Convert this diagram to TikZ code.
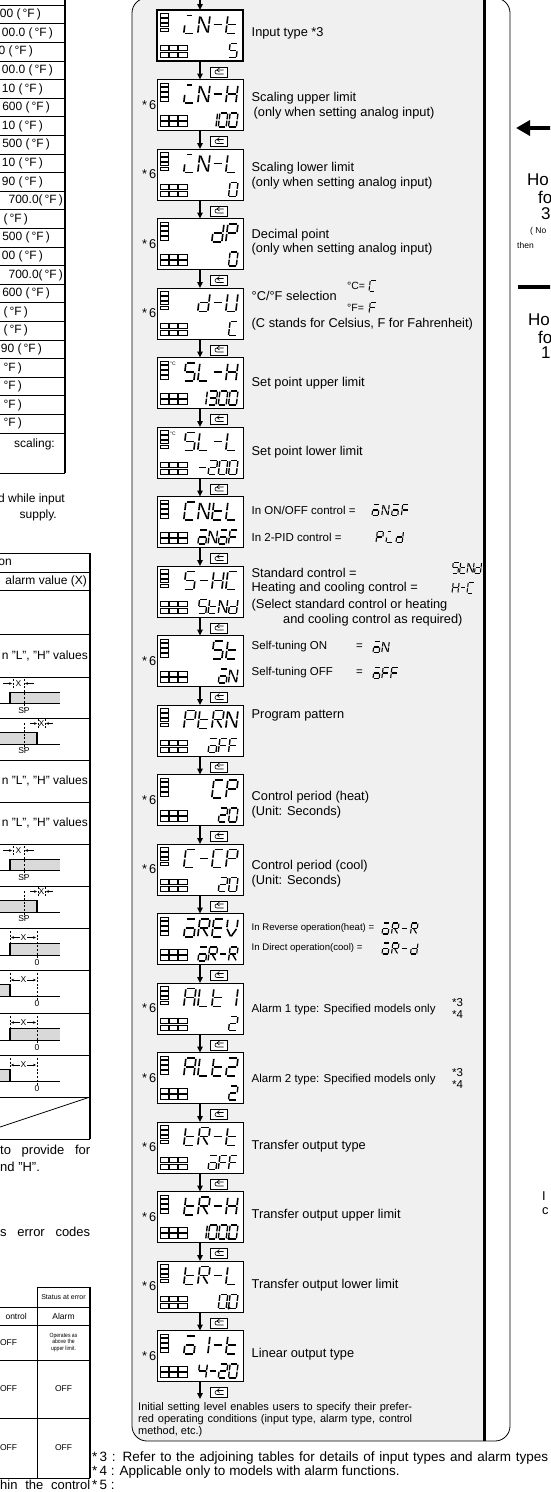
\documentclass[tikz,border=0pt]{standalone}
\usepackage{fontspec}
\setmainfont{Liberation Sans}
\usetikzlibrary{arrows.meta}
\definecolor{panelgray}{gray}{0.94}
\definecolor{diagray}{gray}{0.85}

% ---------- seven-segment definitions (unit height 1, width 0.56)
\expandafter\def\csname sg@a\endcsname{(0.05,1)--(0.51,1)}
\expandafter\def\csname sg@b\endcsname{(0.56,0.95)--(0.56,0.55)}
\expandafter\def\csname sg@c\endcsname{(0.56,0.45)--(0.56,0.05)}
\expandafter\def\csname sg@d\endcsname{(0.05,0)--(0.51,0)}
\expandafter\def\csname sg@e\endcsname{(0,0.05)--(0,0.45)}
\expandafter\def\csname sg@f\endcsname{(0,0.55)--(0,0.95)}
\expandafter\def\csname sg@g\endcsname{(0.05,0.5)--(0.51,0.5)}
\expandafter\def\csname sg@h\endcsname{(0.05,1)--(0.32,1)}
\expandafter\def\csname sg@n\endcsname{(0.05,0.92)--(0.51,0.08)}
\expandafter\def\csname sg@r\endcsname{(0.25,0.45)--(0.54,0.05)}
\expandafter\def\csname sg@v\endcsname{(0.02,0.45)--(0.26,0.04)}
\expandafter\def\csname sg@u\endcsname{(0.54,0.45)--(0.30,0.04)}
\expandafter\def\csname sg@p\endcsname{(0.75,0.04) circle[radius=0.05]}
\def\defch#1#2{\expandafter\def\csname ch@#1\endcsname{#2}}
\defch{0}{a,b,c,d,e,f}
\defch{0p}{a,b,c,d,e,f,p}
\defch{1}{b,c}
\defch{2}{a,b,g,e,d}
\defch{3}{a,b,g,c,d}
\defch{4}{f,g,b,c}
\defch{5}{a,f,g,c,d}
\defch{A}{a,b,c,e,f,g}
\defch{C}{a,d,e,f}
\defch{E}{a,d,e,f,g}
\defch{F}{a,e,f,g}
\defch{H}{b,c,e,f,g}
\defch{L}{d,e,f}
\defch{N}{b,c,e,f,n}
\defch{P}{a,b,e,f,g}
\defch{R}{a,b,e,f,g,r}
\defch{U}{b,c,d,e,f}
\defch{V}{b,f,v,u}
\defch{d}{b,c,d,e,g}
\defch{t}{d,e,f,g}
\defch{O}{a,c,d,e,g}
\defch{i}{h,e,d}
\defch{-}{g}

\newcommand\lcddraw[5]{%
 \foreach \lch [count=\lci from 0] in \lcdlist {%
  \begin{scope}[shift={({#1+\lci*#4},{#2})}, x={(#3pt,0pt)}, y={(0pt,#3pt)}, xslant=0.12, line width=#5pt, line cap=butt]
   \expandafter\let\expandafter\lseglist\csname ch@\lch\endcsname
   \foreach \lsg in \lseglist {%
     \expandafter\let\expandafter\lsegpath\csname sg@\lsg\endcsname
     \draw \lsegpath;}
  \end{scope}}}
\newcommand\lcdL[6]{\edef\lcdlist{#6}\lcddraw{#1}{#2}{#3}{#4}{#5}}
\newcommand\lcdR[6]{\edef\lcdlist{#6}%
 \foreach \lch [count=\lcn] in \lcdlist {\xdef\lcdN{\lcn}}%
 \pgfmathsetmacro\lcdX{#1-(\lcdN-1)*#4-0.68*#3}%
 \lcddraw{\lcdX}{#2}{#3}{#4}{#5}}

\tikzset{
 dbox/.style={draw, fill=white, minimum width=86pt, minimum height=51pt, inner sep=0pt, outer sep=0pt},
 dsq/.style={line width=0.45pt},
 farrow/.style={line width=1.6pt, -{Triangle[width=5.5pt,length=6pt]}},
 lbl/.style={font=\fontsize{12.8}{14}\selectfont, inner sep=0pt, anchor=west},
 slbl/.style={font=\fontsize{11.5}{13}\selectfont, inner sep=0pt, anchor=west},
 xslbl/.style={font=\fontsize{9.6}{11}\selectfont, inner sep=0pt, anchor=west},
 tbl/.style={font=\fontsize{12}{13}\selectfont, inner sep=0pt},
 par/.style={font=\fontsize{13}{14}\selectfont, inner sep=0pt},
 small/.style={font=\fontsize{8.5}{9}\selectfont, inner sep=0pt},
 tiny/.style={font=\fontsize{6}{6.5}\selectfont, inner sep=0pt, align=center},
 xlab/.style={font=\fontsize{8.5}{9}\selectfont, inner sep=0pt},
 xarr/.style={line width=0.6pt, -{Stealth[length=3pt,width=2.6pt]}},
 dashln/.style={line width=0.9pt, dash pattern=on 2pt off 1.6pt},
 rule/.style={line width=0.8pt},
 fn/.style={font=\fontsize{13.5}{14}\selectfont, inner sep=0pt, anchor=west},
 itx/.style={font=\fontsize{11}{12}\selectfont, inner sep=0pt, anchor=west},
 big/.style={font=\fontsize{17}{17}\selectfont, inner sep=0pt, anchor=west},
}

\newcommand\dispbox[3]{%
 \node[dbox, line width=#3] (#1) at (200,#2+25.5) {};
 \foreach \q in {0,...,3} {\draw[dsq] (160,#2+3.3+\q*4.9) rectangle (168,#2+6.9+\q*4.9);}
 \foreach \q in {0,1,2} {\foreach \r in {0,1} {\draw[dsq] (160+\q*9.2,#2+35.3+\r*6.5) rectangle (168.4+\q*9.2,#2+40.6+\r*6.5);}}}
\newcommand\dispfull[5]{\dispbox{#1}{#2}{#3}%
 \lcdR{238}{#2+23.5}{18}{14}{1.6}{#4}%
 \lcdR{238}{#2+47.5}{14}{10.2}{1.35}{#5}}
\newcommand\reticon[2]{%
 \draw[line width=0.5pt, fill=white] (#1-8.3,#2-5) rectangle (#1+8.3,#2+5);
 \draw[line width=0.6pt] (#1+5,#2-2) -- (#1-1.5,#2-2) to[out=180,in=180,looseness=1.7] (#1-1.5,#2+2) -- (#1+5,#2+2);
 \draw[line width=0.6pt] (#1+1,#2-4) -- (#1-1.5,#2-2) -- (#1+1,#2);}
\newcommand\spA[2]{%
 \fill[diagray] (10,#1+15) rectangle (60,#1+26);
 \draw[line width=0.5pt] (10,#1+15) -- (60,#1+15);
 \draw[line width=1.4pt] (10,#1+15) -- (10,#1+26);
 \draw[line width=1pt] (-2,#1+26) -- (60,#1+26);
 \draw[dashln] (24,#1+2) -- (24,#1+31);
 \draw[dashln] (13,#1+2) -- (13,#1+11);
 \draw[xarr] (3,#1+6.5) -- (12,#1+6.5);
 \draw[xarr] (34,#1+6.5) -- (25,#1+6.5);
 \node[xlab] (spax#2) at (18.5,#1+6.5) {X};
 \node[xlab] (spas#2) at (24,#1+33.5) {SP};}
\newcommand\spB[2]{%
 \fill[diagray] (-2,#1+14) rectangle (37,#1+26);
 \draw[line width=0.5pt] (-2,#1+14) -- (37,#1+14);
 \draw[line width=1.4pt] (37,#1+14) -- (37,#1+26);
 \draw[line width=1pt] (-2,#1+26) -- (60,#1+26);
 \draw[dashln] (24,#1+5) -- (24,#1+31);
 \draw[dashln] (38,#1+1) -- (38,#1+10);
 \draw[dashln] (45,#1+1) -- (45,#1+10);
 \draw[xarr] (30,#1+5.5) -- (37,#1+5.5);
 \draw[xarr] (53,#1+5.5) -- (46,#1+5.5);
 \node[xlab] (spbx#2) at (41.5,#1+5.5) {X};
 \node[xlab] (spbs#2) at (24,#1+33) {SP};}
\newcommand\zA[2]{%
 \fill[diagray] (10,#1+15) rectangle (60,#1+27);
 \draw[line width=0.5pt] (10,#1+15) -- (60,#1+15);
 \draw[line width=1.4pt] (10,#1+15) -- (10,#1+27);
 \draw[line width=1pt] (-2,#1+27) -- (60,#1+27);
 \draw[dashln] (10,#1+3) -- (10,#1+15);
 \draw[dashln] (37,#1+3) -- (37,#1+31);
 \draw[xarr] (20,#1+9.5) -- (11,#1+9.5);
 \draw[xarr] (27,#1+9.5) -- (36,#1+9.5);
 \node[xlab] (zax#2) at (23.5,#1+9.5) {X};
 \node[xlab] (zas#2) at (37,#1+35) {0};}
\newcommand\zB[2]{%
 \fill[diagray] (-2,#1+14) rectangle (10,#1+26);
 \draw[line width=0.5pt] (-2,#1+14) -- (10,#1+14);
 \draw[line width=1.4pt] (10,#1+14) -- (10,#1+26);
 \draw[line width=1pt] (-2,#1+26) -- (60,#1+26);
 \draw[dashln] (10,#1+3) -- (10,#1+14);
 \draw[dashln] (37,#1+3) -- (37,#1+30);
 \draw[xarr] (20,#1+10) -- (11,#1+10);
 \draw[xarr] (27,#1+10) -- (36,#1+10);
 \node[xlab] (zbx#2) at (23.5,#1+10) {X};
 \node[xlab] (zbs#2) at (37,#1+34) {0};}

\begin{document}
\begin{tikzpicture}[x=1pt,y=-1pt]
\useasboundingbox (0,0) rectangle (550,1492);
\clip (0,0) rectangle (550,1492);
\fill[white] (0,0) rectangle (550,1492);

% ================= left: table 1
\foreach \k in {0,...,23} {\draw[rule] (-5,5.2+\k*18.6) -- (65,5.2+\k*18.6);}
\draw[rule] (-5,473) -- (65,473);
\draw[line width=1.4pt] (65,-2) -- (65,473);
\foreach \k/\xe/\tx in {0/41/{00 (\,°F\,)},1/53/{00.0 (\,°F\,)},2/33/{0 (\,°F\,)},3/53/{00.0 (\,°F\,)},
 4/43/{10 (\,°F\,)},5/50/{600 (\,°F\,)},6/43/{10 (\,°F\,)},7/50/{500 (\,°F\,)},8/43/{10 (\,°F\,)},
 9/43/{90 (\,°F\,)},10/63/{700.0(\,°F\,)},11/28/{(\,°F\,)},12/50/{500 (\,°F\,)},13/43/{00 (\,°F\,)},
 14/63/{700.0(\,°F\,)},15/50/{600 (\,°F\,)},16/28/{(\,°F\,)},17/28/{(\,°F\,)},18/42/{90 (\,°F\,)},
 19/22/{°F\,)},20/22/{°F\,)},21/22/{°F\,)},22/22/{°F\,)}}
 {\node[tbl, anchor=east] (ta\k) at (\xe,14.5+\k*18.6) {\tx};}
\node[tbl, anchor=east] (ta23) at (55,444) {scaling:};
\node[tbl, anchor=east] (tb1) at (65,499) {d while input};
\node[tbl, anchor=east] (tb2) at (57,515) {supply.};

% ================= left: table 2 (alarm types)
\foreach \yy in {553,572,590,634,677,718,760,802,844,886,928,970,1013,1055,1097,1139}
 {\draw[rule] (-5,\yy) -- (90,\yy);}
\draw[line width=1.2pt] (90,553) -- (90,1139);
\draw[rule] (-5,1128.7) -- (90,1097);
\node[tbl, anchor=east] (tc1) at (12,562.5) {on};
\node[tbl, anchor=east] (tc2) at (87,581) {alarm value (X)};
\node[tbl, anchor=east] (tc3) at (88,656) {n "L", "H" values};
\node[tbl, anchor=east] (tc4) at (88,781) {n "L", "H" values};
\node[tbl, anchor=east] (tc5) at (88,823) {n "L", "H" values};
\spA{677}{1}
\spB{718}{1}
\spA{844}{2}
\spB{886}{2}
\zA{928}{1}
\zB{970}{1}
\zA{1013}{2}
\zB{1055}{2}
\node[par, anchor=west] (td1) at (0,1151) {\makebox[90pt][s]{to provide for}};
\node[par, anchor=west] (td2) at (0,1167) {nd "H".};
\node[par, anchor=west] (td3) at (0,1232) {\makebox[90pt][s]{s error codes}};

% ================= left: table 3 (errors)
\draw[rule] (37,1287) -- (90,1287);
\draw[rule] (37,1287) -- (37,1478);
\draw[line width=1.2pt] (90,1287) -- (90,1478);
\foreach \yy in {1307,1325,1360,1418,1478} {\draw[rule] (-5,\yy) -- (90,\yy);}
\node[font=\fontsize{7}{8}\selectfont, inner sep=0pt] (te1) at (63.5,1297) {Status at error};
\node[small, anchor=east] (te2) at (27,1316) {ontrol};
\node[small] (te3) at (63.5,1316) {Alarm};
\node[small] (te4) at (8.5,1342.5) {OFF};
\node[tiny] (te5) at (63.5,1342.5) {\scalebox{0.85}[1]{Operates as}\\\scalebox{0.85}[1]{above the}\\\scalebox{0.85}[1]{upper limit.}};
\node[small] (te6) at (8.5,1389) {OFF};
\node[small] (te7) at (63.5,1389) {OFF};
\node[small] (te8) at (8.5,1448) {OFF};
\node[small] (te9) at (63.5,1448) {OFF};
\node[par, anchor=west] (te10) at (0,1485) {\makebox[90pt][s]{hin the control}};

% ================= centre panel
\begin{scope}
 \clip[rounded corners=15pt] (132,-2) rectangle (510,1441);
 \fill[panelgray] (132,-2) rectangle (484,1441);
\end{scope}
\draw[line width=0.8pt, rounded corners=15pt] (132,-2) rectangle (510,1441);
\draw[line width=3pt] (484,-2) -- (484,1441);

% displays
\dispfull{d1}{10}{2.4pt}{i,N,-,t}{5}
\dispfull{d2}{79.5}{0.9pt}{i,N,-,H}{1,0,0}
\dispfull{d3}{149}{0.9pt}{i,N,-,L}{0}
\dispfull{d4}{218.5}{0.9pt}{d,P}{0}
\dispfull{d5}{288}{0.9pt}{d,-,U}{C}
\dispfull{d6}{357.5}{0.9pt}{5,L,-,H}{1,3,0,0}
\dispfull{d7}{427}{0.9pt}{5,L,-,L}{-,2,0,0}
\dispfull{d8}{496.5}{0.9pt}{C,N,t,L}{O,N,O,F}
\dispfull{d9}{566}{0.9pt}{5,-,H,C}{5,t,N,d}
\dispfull{d10}{635.5}{0.9pt}{5,t}{O,N}
\dispfull{d11}{705}{0.9pt}{P,t,R,N}{O,F,F}
\dispfull{d12}{774.5}{0.9pt}{C,P}{2,0}
\dispfull{d13}{844}{0.9pt}{C,-,C,P}{2,0}
\dispfull{d14}{913.5}{0.9pt}{O,R,E,V}{O,R,-,R}
\dispfull{d15}{983}{0.9pt}{A,L,t,1}{2}
\dispfull{d16}{1052.5}{0.9pt}{A,L,t,2}{2}
\dispfull{d17}{1122}{0.9pt}{t,R,-,t}{O,F,F}
\dispfull{d18}{1191.5}{0.9pt}{t,R,-,H}{1,0,0p,0}
\dispfull{d19}{1261}{0.9pt}{t,R,-,L}{0p,0}
\dispfull{d20}{1330.5}{0.9pt}{O,1,-,t}{4,-,2,0}
\node[font=\fontsize{5}{5}\selectfont, inner sep=0pt] (dc6) at (173,364) {°C};
\node[font=\fontsize{5}{5}\selectfont, inner sep=0pt] (dc7) at (173,433.5) {°C};

% flow arrows and key icons
\coordinate (start) at (200,-2);
\coordinate (finish) at (200,1399);
\draw[farrow] (start) -- (d1.north);
\foreach \a/\b in {d1/d2,d2/d3,d3/d4,d4/d5,d5/d6,d6/d7,d7/d8,d8/d9,d9/d10,d10/d11,d11/d12,d12/d13,d13/d14,d14/d15,d15/d16,d16/d17,d17/d18,d18/d19,d19/d20}
 {\draw[farrow] (\a.south) -- (\b.north);}
\draw[farrow] (d20.south) -- (finish);
\foreach \tt in {10,79.5,149,218.5,288,357.5,427,496.5,566,635.5,705,774.5,844,913.5,983,1052.5,1122,1191.5,1261,1330.5}
 {\reticon{218.5}{\tt+62}}

% *6 marks
\foreach \tt [count=\j] in {79.5,149,218.5,288,635.5,774.5,844,983,1052.5,1122,1191.5,1261,1330.5}
 {\node[lbl, anchor=east] (six\j) at (156.5,\tt+25.5) {*\,6};}

% labels
\node[lbl] (l1) at (251.5,33) {Input type *3};
\node[lbl] (l2a) at (251.5,98.5) {Scaling upper limit};
\node[lbl] (l2b) at (253.5,113.5) {(only when setting analog input)};
\node[lbl] (l3a) at (251.5,168) {Scaling lower limit};
\node[lbl] (l3b) at (251.5,183) {(only when setting analog input)};
\node[lbl] (l4a) at (251.5,235) {Decimal point};
\node[lbl] (l4b) at (251.5,249) {(only when setting analog input)};
\node[lbl] (l5a) at (251.5,296) {°C/°F selection};
\node[font=\fontsize{10.5}{11}\selectfont, inner sep=0pt, anchor=west] (l5c) at (347,286) {°C=};
\lcdL{369}{291}{10.5}{8}{1}{C}
\node[font=\fontsize{10.5}{11}\selectfont, inner sep=0pt, anchor=west] (l5f) at (347,308) {°F=};
\lcdL{369}{313}{10.5}{8}{1}{F}
\node[lbl] (l5b) at (251.5,324) {(C stands for Celsius, F for Fahrenheit)};
\node[lbl] (l6) at (251.5,383) {Set point upper limit};
\node[lbl] (l7) at (251.5,452) {Set point lower limit};
\node[slbl] (l8a) at (251.5,510) {In ON/OFF control =};
\lcdL{372}{515.5}{11}{9.8}{1.05}{O,N,O,F}
\node[slbl] (l8b) at (251.5,537) {In 2-PID control =};
\lcdL{376}{542.5}{11}{10}{1.05}{P,i,d}
\node[lbl] (l9a) at (251.5,573) {Standard control =};
\lcdL{452}{573}{10.5}{7.5}{1}{5,t,N,d}
\node[lbl] (l9b) at (251.5,588) {Heating and cooling control =};
\lcdL{452}{593}{10.5}{7.5}{1}{H,-,C}
\node[lbl] (l9c) at (251.5,605) {(Select standard control or heating};
\node[lbl] (l9d) at (283,620) {and cooling control as required)};
\node[slbl] (l10a) at (251.5,647) {Self-tuning ON};
\node[slbl] (l10e) at (356,647) {=};
\lcdL{373}{652.5}{11}{8.8}{1.05}{O,N}
\node[slbl] (l10b) at (251.5,673) {Self-tuning OFF};
\node[slbl] (l10f) at (356,673) {=};
\lcdL{373}{678.5}{11}{8.8}{1.05}{O,F,F}
\node[lbl] (l11) at (251.5,715) {Program pattern};
\node[lbl] (l12a) at (251.5,797) {Control period (heat)};
\node[lbl] (l12b) at (251.5,812) {(Unit: Seconds)};
\node[lbl] (l13a) at (251.5,866.5) {Control period (cool)};
\node[lbl] (l13b) at (251.5,881.5) {(Unit: Seconds)};
\node[xslbl] (l14a) at (251.5,928.5) {In Reverse operation(heat) =};
\lcdL{382}{934}{11}{9.5}{1.05}{O,R,-,R}
\node[xslbl] (l14b) at (251.5,948.5) {In Direct operation(cool) =};
\lcdL{382}{954}{11}{9.5}{1.05}{O,R,-,d}
\node[slbl] (l15) at (251.5,1010) {Alarm 1 type: Specified models only};
\node[slbl] (l15x) at (452,1003) {*3};
\node[slbl] (l15y) at (452,1015) {*4};
\node[slbl] (l16) at (251.5,1079.5) {Alarm 2 type: Specified models only};
\node[slbl] (l16x) at (452,1072.5) {*3};
\node[slbl] (l16y) at (452,1084.5) {*4};
\node[lbl] (l17) at (251.5,1146) {Transfer output type};
\node[lbl] (l18) at (251.5,1215.5) {Transfer output upper limit};
\node[lbl] (l19) at (251.5,1285) {Transfer output lower limit};
\node[lbl] (l20) at (251.5,1354.5) {Linear output type};

\node[itx] (i1) at (138,1408) {\makebox[274pt][s]{Initial setting level enables users to specify their prefer-}};
\node[itx] (i2) at (138,1420) {\makebox[274pt][s]{red operating conditions (input type, alarm type, control}};
\node[itx] (i3) at (138,1432) {method, etc.)};

% ================= right column
\coordinate (atail) at (560,128);
\coordinate (ahead) at (516,128);
\draw[line width=4pt, -{Triangle[width=15pt,length=14pt]}] (atail) -- (ahead);
\coordinate (bl) at (518,287);
\coordinate (br) at (556,287);
\draw[line width=3.5pt] (bl) -- (br);
\node[big] (r1) at (527,180) {Ho};
\node[big] (r2) at (538,197) {fo};
\node[big] (r3) at (541,214) {3};
\node[small, anchor=west] (r4) at (530,231) {( No};
\node[small, anchor=west] (r5) at (517,245) {then};
\node[big] (r6) at (528,320) {Ho};
\node[big] (r7) at (538,337) {fo};
\node[big] (r8) at (541,353) {1};
\node[lbl] (r9) at (542,1196) {I};
\node[lbl] (r10) at (542,1211) {c};

% ================= footnotes
\node[fn] (f3) at (92,1458) {\makebox[456pt][s]{*\,3 : Refer to the adjoining tables for details of input types and alarm types}};
\node[fn] (f4) at (92,1472) {*\,4 : Applicable only to models with alarm functions.};
\node[fn] (f5) at (92,1485) {*\,5 :};
\end{tikzpicture}
\end{document}
